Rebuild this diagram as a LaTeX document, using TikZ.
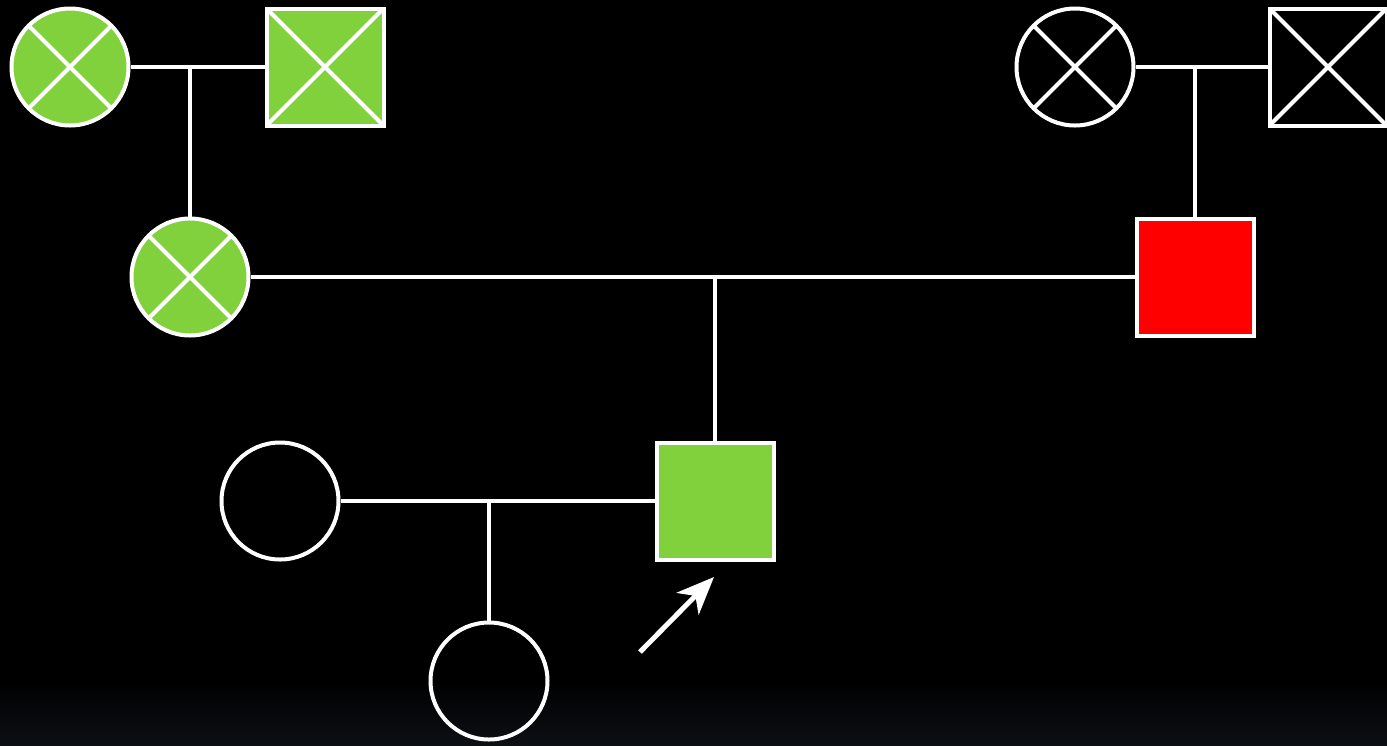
\documentclass[tikz,border=0pt]{standalone}
\usetikzlibrary{arrows.meta}
\definecolor{pgreen}{HTML}{81D13C}
\definecolor{bgbot}{HTML}{0C0F14}
\begin{document}
\begin{tikzpicture}[x=0.02cm,y=-0.02cm,
  lw/.style={line width=4*0.02cm},
  person/.style={draw=white,lw,inner sep=0pt,minimum size=117*0.02cm},
  fem/.style={person,circle},
  mal/.style={person,rectangle},
  conn/.style={draw=white,lw},
  crossed/.style={path picture={
     \draw[white,lw] (path picture bounding box.north west)--(path picture bounding box.south east)
       (path picture bounding box.north east)--(path picture bounding box.south west);}}]
\fill[black] (0,0) rectangle (1387,745);
\shade[top color=black,bottom color=bgbot] (0,680) rectangle (1387,745);
\useasboundingbox (0,0) rectangle (1387,745);
% generation I
\node[fem,crossed,fill=pgreen] (gm1) at (70,67) {};
\node[mal,crossed,fill=pgreen] (gf1) at (325,67) {};
\node[fem,crossed] (gm2) at (1075,67) {};
\node[mal,crossed] (gf2) at (1328,67) {};
% generation II
\node[fem,crossed,fill=pgreen] (m) at (190,277) {};
\node[mal,fill=red] (f) at (1195,277) {};
% generation III
\node[fem] (w) at (280,501) {};
\node[mal,fill=pgreen] (p) at (715,501) {};
% generation IV
\node[fem] (c) at (489,681) {};
% marriage lines
\draw[conn] (gm1) -- (gf1);
\draw[conn] (gm2) -- (gf2);
\draw[conn] (m) -- (f);
\draw[conn] (w) -- (p);
\coordinate (j1) at (190,67);
\coordinate (j2) at (1195,67);
\coordinate (j3) at (715,277);
\coordinate (j4) at (489,501);
\draw[conn] (j1) -- (m.north);
\draw[conn] (j2) -- (f.north);
\draw[conn] (j3) -- (p.north);
\draw[conn] (j4) -- (c.north);
% arrow
\coordinate (a0) at (640,652);
\coordinate (a1) at (714,577);
\draw[white,line width=5*0.02cm,-{Stealth[length=0.75cm,width=0.62cm,inset=0.22cm]}] (a0) -- (a1);
\end{tikzpicture}
\end{document}
